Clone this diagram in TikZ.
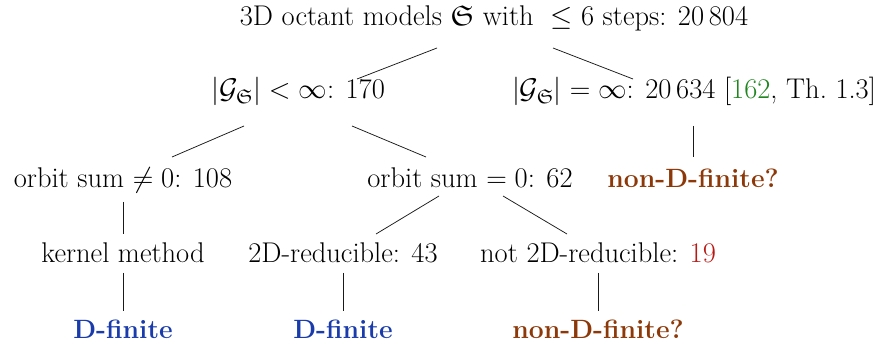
\RequirePackage{fix-cm}
\documentclass[tikz,border=0pt]{standalone}
\usepackage{amsmath,amssymb}
\usepackage{fontspec}
\usetikzlibrary{calc}
\definecolor{refgreen}{rgb}{0.12,0.52,0.12}
\definecolor{refred}{rgb}{0.72,0.1,0.08}
\definecolor{refbrown}{rgb}{0.55,0.22,0.03}
\definecolor{refblue}{rgb}{0.1,0.23,0.67}
\tikzset{
  lbl/.style={anchor=base, inner sep=0pt, font=\fontsize{28.5}{34}\selectfont},
  edge/.style={draw=black!90, line width=0.75pt},
  fin/.style={lbl, text=refblue, font=\fontsize{26.5}{32}\selectfont\bfseries},
  nfin/.style={lbl, text=refbrown, font=\fontsize{26.5}{32}\selectfont\bfseries}
}
\begin{document}
\begin{tikzpicture}[x=1pt,y=-1pt]
\useasboundingbox (0,0) rectangle (875,344);
\node[lbl] (root) at (494,26) {3D octant models $\mathfrak{S}$ with~ $\leq 6$ steps: 20\,804};
\node[lbl] (lt) at (298,99) {$|\mathcal{G}_{\mathfrak{S}}| < \infty$: 170};
\node[lbl] (rt) at (694,99) {$|\mathcal{G}_{\mathfrak{S}}| = \infty$: 20\,634 [\textcolor{refgreen}{162}, Th.~1.3]};
\node[lbl] (os1) at (123,188) {orbit sum $\neq 0$: 108};
\node[lbl] (os0) at (470,188) {orbit sum $= 0$: 62};
\node[nfin] (nd1) at (693,188) {non-D-finite?};
\node[lbl] (km) at (123,263) {kernel method};
\node[lbl] (r2) at (343,263) {2D-reducible: 43};
\node[lbl] (nr) at (598,263) {not 2D-reducible: \textcolor{refred}{19}};
\node[fin] (df1) at (123,339) {D-finite};
\node[fin] (df2) at (343,339) {D-finite};
\node[nfin] (nd2) at (598,339) {non-D-finite?};
\draw[edge] ($(root.base)+(-57,22)$) -- ($(lt.base)+(59,-20)$);
\draw[edge] ($(root.base)+(59,22)$) -- ($(rt.base)+(-61,-20)$);
\draw[edge] ($(lt.base)+(-54,27)$) -- ($(os1.base)+(49,-31)$);
\draw[edge] ($(lt.base)+(54,27)$) -- ($(os0.base)+(-44,-31)$);
\draw[edge] ($(nd1.base)+(0,-62)$) -- ($(nd1.base)+(0,-31)$);
\draw[edge] ($(os1.base)+(0,14)$) -- ($(km.base)+(0,-29)$);
\draw[edge] ($(os0.base)+(-31,8)$) -- ($(r2.base)+(33,-29)$);
\draw[edge] ($(os0.base)+(33,8)$) -- ($(nr.base)+(-31,-29)$);
\draw[edge] ($(km.base)+(0,10)$) -- ($(df1.base)+(0,-28)$);
\draw[edge] ($(r2.base)+(0,10)$) -- ($(df2.base)+(0,-28)$);
\draw[edge] ($(nr.base)+(0,10)$) -- ($(nd2.base)+(0,-28)$);
\end{tikzpicture}
\end{document}
